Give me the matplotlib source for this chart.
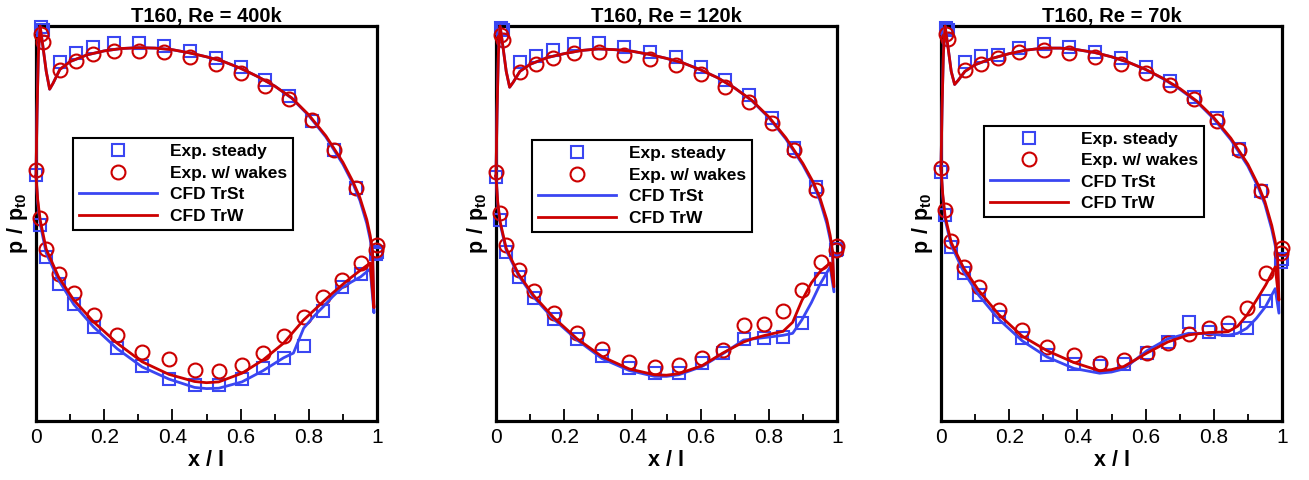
import matplotlib
matplotlib.use("Agg")
from matplotlib import pyplot as plt

plt.rcParams['font.family'] = ['Liberation Sans', 'DejaVu Sans']
plt.rcParams['mathtext.fontset'] = 'custom'
plt.rcParams['mathtext.rm'] = 'Liberation Sans'
plt.rcParams['mathtext.bf'] = 'Liberation Sans:bold'

titles = ['T160, Re = 400k', 'T160, Re = 120k', 'T160, Re = 70k']

# pressure tap positions (suction side / pressure side)
ss_x = [0.014, 0.020, 0.069, 0.116, 0.168, 0.230, 0.301, 0.375, 0.452, 0.528,
        0.602, 0.673, 0.743, 0.808, 0.874, 0.937]
ps_x = [0.0, 0.012, 0.030, 0.066, 0.111, 0.169, 0.238, 0.311, 0.390, 0.465,
        0.536, 0.604, 0.665, 0.726, 0.785, 0.842, 0.897, 0.952, 0.996, 1.0]

# experiments, Re = 400k
sq_ss_400 = [0.997, 0.990, 0.909, 0.932, 0.947, 0.958, 0.957, 0.949, 0.937, 0.920,
             0.896, 0.863, 0.823, 0.760, 0.687, 0.589]
ci_ss_400 = [0.981, 0.960, 0.888, 0.911, 0.930, 0.936, 0.937, 0.933, 0.922, 0.905,
             0.882, 0.848, 0.814, 0.761, 0.686, 0.589]
sq_ps_400 = [0.622, 0.496, 0.415, 0.348, 0.295, 0.238, 0.185, 0.139, 0.107, 0.092,
             0.091, 0.107, 0.134, 0.160, 0.189, 0.279, 0.340, 0.373, 0.424, 0.428]
ci_ps_400 = [0.635, 0.513, 0.436, 0.373, 0.323, 0.268, 0.217, 0.175, 0.158, 0.129,
             0.127, 0.143, 0.171, 0.215, 0.264, 0.314, 0.358, 0.400, 0.432, 0.445]

# experiments, Re = 120k
sq_ss_120 = [0.996, 0.990, 0.910, 0.923, 0.939, 0.954, 0.956, 0.948, 0.935, 0.921,
             0.897, 0.863, 0.825, 0.766, 0.690, 0.593]
ci_ss_120 = [0.977, 0.965, 0.884, 0.903, 0.918, 0.931, 0.933, 0.927, 0.916, 0.901,
             0.878, 0.845, 0.808, 0.754, 0.686, 0.585]
sq_ps_120 = [0.618, 0.509, 0.429, 0.365, 0.312, 0.257, 0.207, 0.165, 0.133, 0.121,
             0.122, 0.148, 0.173, 0.208, 0.209, 0.213, 0.249, 0.359, 0.433, 0.436]
ci_ps_120 = [0.631, 0.526, 0.446, 0.382, 0.329, 0.273, 0.222, 0.182, 0.150, 0.137,
             0.142, 0.160, 0.181, 0.243, 0.246, 0.279, 0.332, 0.403, 0.433, 0.443]

# experiments, Re = 70k
sq_ss_70 = [0.996, 0.990, 0.910, 0.923, 0.927, 0.944, 0.954, 0.948, 0.935, 0.919,
            0.897, 0.862, 0.821, 0.766, 0.688, 0.583]
ci_ss_70 = [0.979, 0.966, 0.889, 0.905, 0.918, 0.935, 0.939, 0.932, 0.921, 0.904,
            0.882, 0.851, 0.814, 0.760, 0.686, 0.583]
sq_ps_70 = [0.631, 0.522, 0.441, 0.374, 0.319, 0.264, 0.209, 0.167, 0.144, 0.140,
            0.144, 0.171, 0.201, 0.250, 0.226, 0.230, 0.235, 0.304, 0.403, 0.410]
ci_ps_70 = [0.640, 0.534, 0.456, 0.391, 0.338, 0.281, 0.230, 0.188, 0.167, 0.148,
            0.154, 0.173, 0.197, 0.219, 0.235, 0.247, 0.285, 0.374, 0.425, 0.437]

# CFD surface curves
cfd_ss_x = [0.0, 0.003, 0.007, 0.012, 0.02, 0.03, 0.04, 0.05, 0.07, 0.1, 0.15, 0.2,
            0.25, 0.3, 0.35, 0.4, 0.45, 0.5, 0.55, 0.6, 0.65, 0.7, 0.75, 0.8, 0.85,
            0.9, 0.93, 0.95, 0.97, 0.98, 0.987]
cfd_ps_x = [0.0, 0.005, 0.012, 0.03, 0.066, 0.111, 0.169, 0.238, 0.311, 0.39, 0.465,
            0.5, 0.536, 0.604, 0.665, 0.726, 0.755, 0.785, 0.815, 0.842, 0.87, 0.897,
            0.925, 0.952, 0.98]
te_x = 0.991

trw_ss_400 = [0.62, 0.78, 0.93, 1.0, 0.95, 0.885, 0.84, 0.855, 0.89, 0.91, 0.927, 0.937,
              0.943, 0.945, 0.944, 0.94, 0.932, 0.922, 0.91, 0.893, 0.872, 0.848, 0.818,
              0.775, 0.722, 0.655, 0.605, 0.565, 0.51, 0.47, 0.43]
trst_ss_400 = [0.62, 0.78, 0.93, 1.0, 0.95, 0.885, 0.84, 0.855, 0.89, 0.91, 0.927, 0.937,
               0.943, 0.945, 0.944, 0.94, 0.932, 0.922, 0.91, 0.893, 0.872, 0.848, 0.817,
               0.773, 0.719, 0.65, 0.6, 0.558, 0.5, 0.46, 0.42]
trw_ps_400 = [0.62, 0.56, 0.51, 0.435, 0.365, 0.306, 0.251, 0.197, 0.150, 0.118, 0.100,
              0.097, 0.099, 0.121, 0.154, 0.197, 0.226, 0.256, 0.28, 0.302, 0.324, 0.344,
              0.364, 0.382, 0.40]
trst_ps_400 = [0.62, 0.555, 0.50, 0.425, 0.357, 0.295, 0.238, 0.183, 0.137, 0.106, 0.085,
               0.082, 0.083, 0.099, 0.127, 0.160, 0.172, 0.235, 0.265, 0.289, 0.315, 0.337,
               0.352, 0.365, 0.385]
trw_te_400 = 0.287
trst_te_400 = 0.274

trw_ss_120 = [0.62, 0.78, 0.93, 1.0, 0.95, 0.885, 0.845, 0.857, 0.885, 0.903, 0.92, 0.93,
              0.938, 0.942, 0.94, 0.936, 0.928, 0.918, 0.906, 0.889, 0.869, 0.843, 0.812,
              0.77, 0.717, 0.652, 0.605, 0.565, 0.51, 0.47, 0.43]
trst_ss_120 = [0.62, 0.78, 0.93, 1.0, 0.95, 0.885, 0.845, 0.857, 0.885, 0.903, 0.92, 0.93,
               0.938, 0.942, 0.94, 0.936, 0.928, 0.918, 0.906, 0.889, 0.869, 0.843, 0.811,
               0.768, 0.714, 0.648, 0.6, 0.558, 0.5, 0.46, 0.42]
trw_ps_120 = [0.62, 0.555, 0.505, 0.437, 0.372, 0.317, 0.262, 0.208, 0.163, 0.132, 0.117,
              0.116, 0.120, 0.140, 0.172, 0.200, 0.209, 0.216, 0.222, 0.227, 0.25, 0.305,
              0.35, 0.38, 0.40]
trst_ps_120 = [0.62, 0.55, 0.50, 0.432, 0.368, 0.313, 0.258, 0.205, 0.158, 0.128, 0.113,
               0.113, 0.117, 0.138, 0.17, 0.205, 0.208, 0.211, 0.214, 0.217, 0.222, 0.256,
               0.30, 0.349, 0.39]
trw_te_120 = 0.34
trst_te_120 = 0.327

trw_ss_70 = [0.64, 0.79, 0.93, 1.0, 0.95, 0.885, 0.852, 0.862, 0.885, 0.902, 0.918, 0.93,
             0.939, 0.944, 0.944, 0.94, 0.933, 0.922, 0.908, 0.89, 0.868, 0.842, 0.81,
             0.768, 0.716, 0.65, 0.598, 0.555, 0.495, 0.455, 0.415]
trst_ss_70 = [0.64, 0.79, 0.93, 1.0, 0.95, 0.885, 0.852, 0.862, 0.885, 0.902, 0.918, 0.93,
              0.939, 0.944, 0.944, 0.94, 0.933, 0.922, 0.908, 0.89, 0.867, 0.84, 0.808,
              0.765, 0.712, 0.645, 0.592, 0.548, 0.485, 0.445, 0.405]
trw_ps_70 = [0.64, 0.575, 0.518, 0.452, 0.388, 0.33, 0.27, 0.215, 0.178, 0.148, 0.127,
             0.130, 0.138, 0.172, 0.200, 0.218, 0.221, 0.224, 0.225, 0.226, 0.24, 0.268,
             0.306, 0.344, 0.39]
trst_ps_70 = [0.635, 0.57, 0.51, 0.445, 0.378, 0.318, 0.258, 0.203, 0.162, 0.133, 0.121,
              0.124, 0.132, 0.178, 0.208, 0.222, 0.222, 0.221, 0.218, 0.217, 0.222, 0.235,
              0.26, 0.29, 0.335]
trw_te_70 = 0.306
trst_te_70 = 0.273

panels = [
    (sq_ss_400, ci_ss_400, sq_ps_400, ci_ps_400, trst_ss_400, trw_ss_400,
     trst_ps_400, trw_ps_400, trst_te_400, trw_te_400),
    (sq_ss_120, ci_ss_120, sq_ps_120, ci_ps_120, trst_ss_120, trw_ss_120,
     trst_ps_120, trw_ps_120, trst_te_120, trw_te_120),
    (sq_ss_70, ci_ss_70, sq_ps_70, ci_ps_70, trst_ss_70, trw_ss_70,
     trst_ps_70, trw_ps_70, trst_te_70, trw_te_70),
]

blue = '#3a46f2'
red = '#cc0000'

fig = plt.figure(figsize=(13.09, 4.8), dpi=100)
lefts = [36 / 1309, 496 / 1309, 941 / 1309]
leg_pos = [(0.108, 0.716), (0.105, 0.711), (0.125, 0.748)]

def full_curve(ss, ps, te):
    # pressure side LE->TE, trailing edge dip, suction side TE->LE
    xs = cfd_ps_x + [te_x] + cfd_ss_x[::-1]
    ys = ps + [te] + ss[::-1]
    return xs, ys

for i, p in enumerate(panels):
    sq_ss, ci_ss, sq_ps, ci_ps, st_ss, w_ss, st_ps, w_ps, st_te, w_te = p
    ax = fig.add_axes([lefts[i], 59 / 480, 341 / 1309, 395 / 480])

    ax.plot(ss_x + ps_x, sq_ss + sq_ps, ls='none', marker='s', ms=8, mfc='none',
            mec=blue, mew=1.5, clip_on=False, zorder=3, label='Exp. steady')
    ax.plot(ss_x + ps_x, ci_ss + ci_ps, ls='none', marker='o', ms=10, mfc='none',
            mec=red, mew=1.5, clip_on=False, zorder=3, label='Exp. w/ wakes')
    xs, ys = full_curve(st_ss, st_ps, st_te)
    ax.plot(xs, ys, color=blue, lw=2, zorder=4, label='CFD TrSt', clip_on=False)
    xs, ys = full_curve(w_ss, w_ps, w_te)
    ax.plot(xs, ys, color=red, lw=2, zorder=5, label='CFD TrW', clip_on=False)

    ax.set_xlim(0, 1)
    ax.set_ylim(0, 1)
    ax.set_xticks([0, 0.2, 0.4, 0.6, 0.8, 1])
    ax.set_xticklabels(['0', '0.2', '0.4', '0.6', '0.8', '1'])
    ax.set_xticks([0.1, 0.3, 0.5, 0.7, 0.9], minor=True)
    ax.tick_params(axis='x', which='major', direction='in', length=9, width=1.3,
                   labelsize=15, pad=5)
    ax.tick_params(axis='x', which='minor', direction='in', length=5, width=1.3)
    ax.set_yticks([])
    for s in ax.spines.values():
        s.set_linewidth(2.3)

    ax.set_title(titles[i], fontsize=14.5, fontweight='bold', pad=3)
    ax.set_xlabel('x / l', fontsize=15.5, fontweight='bold', labelpad=2)
    ax.text(-0.055, 0.5, r'$\mathbf{p\ /\ p_{t0}}$', transform=ax.transAxes,
            rotation=90, ha='center', va='center', fontsize=15.5)

    leg = ax.legend(loc='upper left', bbox_to_anchor=leg_pos[i], numpoints=1,
                    handlelength=4.5, fontsize=12.5, frameon=True, fancybox=False,
                    edgecolor='black', framealpha=1, borderpad=0.35,
                    labelspacing=0.36, handletextpad=0.75, borderaxespad=0)
    leg.get_frame().set_linewidth(1.5)
    for t in leg.get_texts():
        t.set_fontweight('bold')

fig.savefig('out.png', dpi=100)
